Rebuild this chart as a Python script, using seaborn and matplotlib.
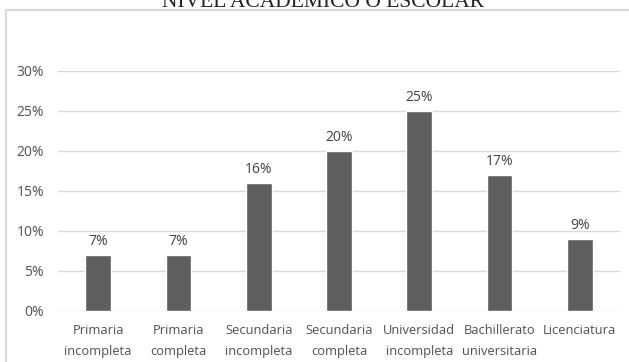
import matplotlib
matplotlib.use("Agg")
import matplotlib.pyplot as plt
import seaborn as sns
import pandas as pd
from matplotlib.patches import Rectangle

categories = ["Primaria\nincompleta", "Primaria\ncompleta", "Secundaria\nincompleta",
              "Secundaria\ncompleta", "Universidad\nincompleta", "Bachillerato\nuniversitaria",
              "Licenciatura"]
values = [0.07, 0.07, 0.16, 0.20, 0.25, 0.17, 0.09]
value_labels = ["7%", "7%", "16%", "20%", "25%", "17%", "9%"]
yticks = [0, 0.05, 0.10, 0.15, 0.20, 0.25, 0.30]
ytick_labels = ["0%", "5%", "10%", "15%", "20%", "25%", "30%"]
title = "NIVEL ACADÉMICO O ESCOLAR"

sns.set_theme(style="white")
plt.rcParams['font.family'] = ['Open Sans', 'DejaVu Sans']

W, H = 629, 362
fig = plt.figure(figsize=(W / 100, H / 100), dpi=100)
ax = fig.add_axes([58 / W, (H - 311) / H, 562 / W, 240 / H])

df = pd.DataFrame({"cat": categories, "val": values})
sns.barplot(data=df, x="cat", y="val", color="#5e5e5e", saturation=1, width=0.32, ax=ax)

ax.set_ylim(0, 0.30)
ax.set_xlim(-0.5, len(categories) - 0.5)
ax.set_yticks(yticks)
ax.set_yticklabels(ytick_labels, color="#505050", fontsize=10)
ax.tick_params(axis="x", colors="#505050", labelsize=9.3, length=0, pad=9.5)
ax.tick_params(axis="y", length=0, pad=10)
for lbl in ax.get_xticklabels():
    lbl.set_linespacing(1.75)
ax.set_xlabel("")
ax.set_ylabel("")
ax.yaxis.grid(True, color="#d9d9d9", linewidth=1)
ax.set_axisbelow(True)
for s in ax.spines.values():
    s.set_visible(False)

for i, (v, t) in enumerate(zip(values, value_labels)):
    ax.annotate(t, (i, v), xytext=(0, 4.5), textcoords="offset points",
                ha="center", va="bottom", fontsize=10, color="#404040")

# chart border (top and left visible)
fig.patches.append(Rectangle((6 / W, -0.1), 1.2, (H - 10) / H + 0.1,
                             transform=fig.transFigure, fill=False,
                             edgecolor="#d9d9d9", linewidth=1.5))

fig.text(323 / W, 1 - 7 / H, title, ha="center", va="baseline",
         fontsize=15.5, family=["Liberation Serif"], color="#222222")

fig.savefig("out.png", dpi=100)
